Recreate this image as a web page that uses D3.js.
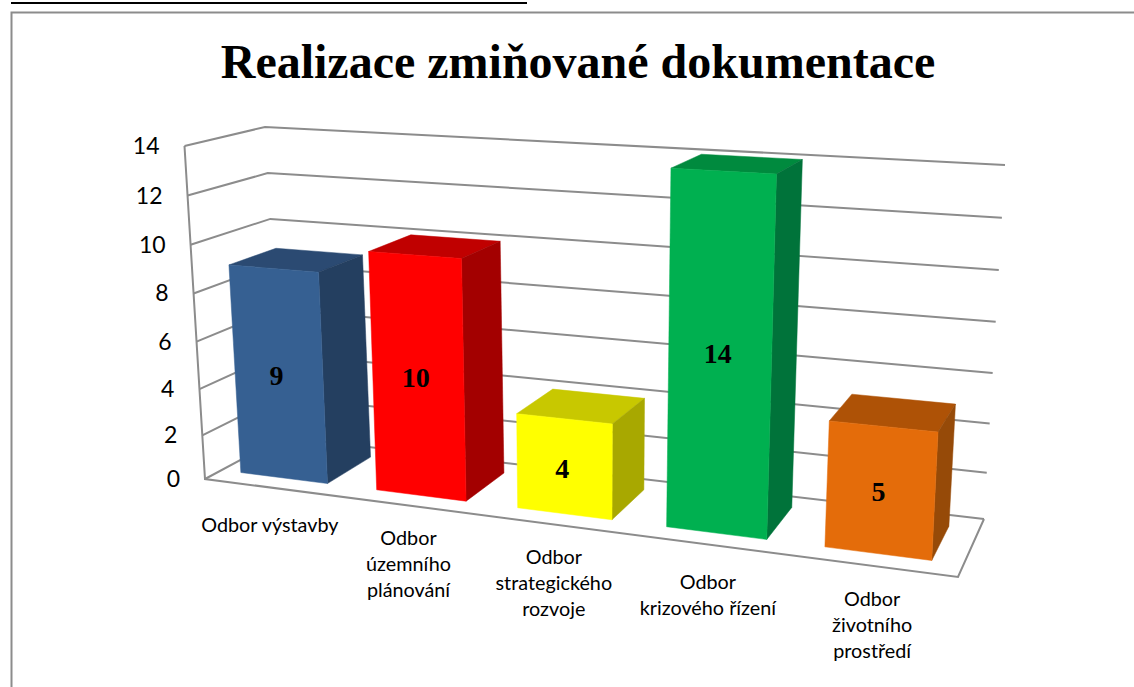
<!DOCTYPE html>
<html><head><meta charset="utf-8">
<script src="https://cdn.jsdelivr.net/npm/d3@7"></script>
<style>html,body{margin:0;padding:0;background:#fff;overflow:hidden}</style>
</head><body><svg id="c" width="1134" height="687"></svg>
<script>
const chartTitle = "Realizace zmiňované dokumentace";
const categories = ["Odbor výstavby","Odbor územního plánování","Odbor strategického rozvoje","Odbor krizového řízení","Odbor životního prostředí"];
const categoryLines = [["Odbor výstavby"],["Odbor","územního","plánování"],["Odbor","strategického","rozvoje"],["Odbor","krizového řízení"],["Odbor","životního","prostředí"]];
const values = [9,10,4,14,5];
const yTicks = [0,2,4,6,8,10,12,14];
const frontColors = ["#366092","#ff0000","#ffff00","#00b050","#e46c0a"];
const topColors = ["#2b4a72","#c00000","#c8c800","#008a3e","#ae5206"];
const sideColors = ["#243f60","#a30000","#a8a800","#00733a","#964a08"];

// Camera calibration of the 3D box: floor and ceiling quads (FL, FR, BR, BL)
const floorQuad = [[205,479],[958,577],[984,519],[283,437]];
const ceilQuad  = [[184.5,146],[978,191.2],[1005,165],[265,127]];

function homography(q){
  const [[x0,y0],[x1,y1],[x2,y2],[x3,y3]] = q;
  const dx1=x1-x2,dx2=x3-x2,dy1=y1-y2,dy2=y3-y2,sx=x0-x1+x2-x3,sy=y0-y1+y2-y3;
  const den=dx1*dy2-dx2*dy1, g=(sx*dy2-dx2*sy)/den, h=(dx1*sy-sx*dy1)/den;
  const a=x1-x0+g*x1,b=x3-x0+h*x3,d=y1-y0+g*y1,e=y3-y0+h*y3;
  return (u,v)=>{const w=g*u+h*v+1;return [(a*u+b*v+x0)/w,(d*u+e*v+y0)/w];};
}
const floorH = homography(floorQuad), ceilH = homography(ceilQuad);
const yFrac = d3.scalePow().exponent(1.045).domain([0,14]).range([0,1]);
const xBand = d3.scaleBand().domain(categories).range([0,1]).paddingInner(0.36).paddingOuter(0.16);
const uWarp = d3.scalePow().exponent(0.97).domain([0,1]).range([-0.005,0.995]);
const depth = d3.scaleLinear().domain([0,1]).range([0.2,0.8]);
function P(u,dp,val){
  const a=floorH(u,dp), b=ceilH(u,dp), t=yFrac(val);
  return [a[0]+(b[0]-a[0])*t, a[1]+(b[1]-a[1])*t];
}
const svg = d3.select("#c");
const line = d3.line();
const GRID = "#8c8c8c";

// page furniture
svg.append("line").attr("x1",11).attr("x2",527).attr("y1",3).attr("y2",3).attr("stroke","#000").attr("stroke-width",2);
svg.append("path").attr("d","M1134,12.5H11.5V687").attr("fill","none").attr("stroke",GRID).attr("stroke-width",2);

svg.append("text").text(chartTitle).attr("x",578).attr("y",78)
  .attr("text-anchor","middle").attr("font-family","Liberation Serif").attr("font-weight","bold").attr("font-size",48).attr("fill","#000");

// walls
const g = svg.append("g").attr("fill","none").attr("stroke",GRID).attr("stroke-width",2);
g.selectAll("path.grid").data(yTicks).join("path").attr("class","grid")
  .attr("d",v=>line([P(0,0,v),P(0,1,v),P(1,1,v)]));
g.append("path").attr("d",line([P(0,0,14),P(0,0,0),P(1,0,0),P(1,1,0)]));

// tick labels
svg.append("g").selectAll("text").data(yTicks).join("text").text(d=>d)
  .attr("x",v=>P(0,0,v)[0]-25).attr("y",v=>P(0,0,v)[1]).attr("dy","0.35em")
  .attr("text-anchor","end").attr("font-family","Lato").attr("font-size",23).attr("fill","#000");

// bars
const bars = svg.append("g").selectAll("g").data(categories).join("g");
bars.each(function(c,i){
  const s=d3.select(this), v=values[i];
  const F=(r,d,val)=>P(uWarp(xBand(c)+(r?xBand.bandwidth():0)), depth(d), val);
  const face=(pts,col)=>s.append("path").attr("d",line(pts)+"Z").attr("fill",col).attr("stroke",col).attr("stroke-width",0.5);
  face([F(0,0,v),F(1,0,v),F(1,1,v),F(0,1,v)],topColors[i]);
  face([F(1,0,0),F(1,1,0),F(1,1,v),F(1,0,v)],sideColors[i]);
  face([F(0,0,0),F(1,0,0),F(1,0,v),F(0,0,v)],frontColors[i]);
  const pts=[F(0,0,0),F(1,0,0),F(1,0,v),F(0,0,v)];
  s.append("text").text(v).attr("x",d3.mean(pts,p=>p[0])-2.5).attr("y",d3.mean(pts,p=>p[1])+1.5).attr("dy","0.35em")
    .attr("text-anchor","middle").attr("font-family","Liberation Serif").attr("font-weight","bold").attr("font-size",28).attr("fill","#000");
});

// category labels
const catG = svg.append("g");
categories.forEach((c,i)=>{
  const lines=categoryLines[i];
  const p=P(uWarp(xBand(c)+xBand.bandwidth()/2),0,0);
  const off = lines.length===3?34:39;
  const t=catG.append("text").attr("text-anchor","middle").attr("font-family","Lato").attr("font-size",19.8).attr("fill","#000");
  lines.forEach((l,j)=>t.append("tspan").attr("x",p[0]+1.5).attr("y",p[1]+off+j*26+6).text(l));
});
</script></body></html>
